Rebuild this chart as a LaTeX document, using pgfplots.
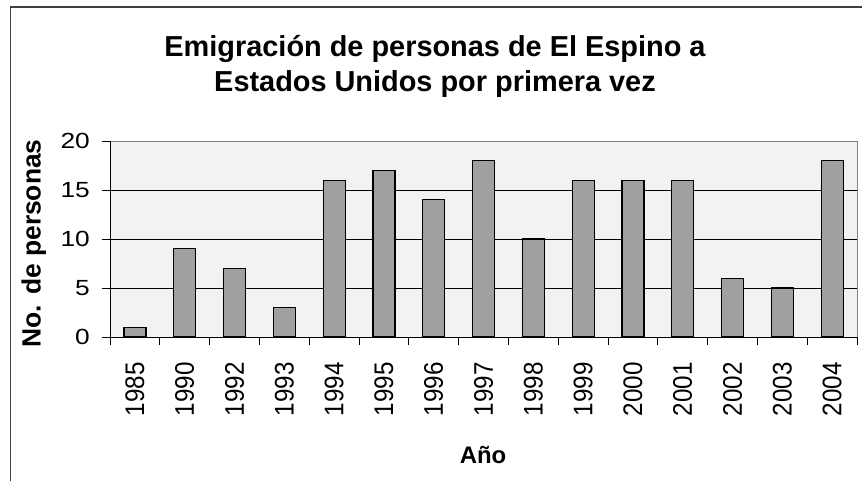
\documentclass[border=0pt]{standalone}
\usepackage{fontspec}
\setmainfont{Liberation Sans}
\newfontfamily\ytickfont[FakeStretch=1.2]{Liberation Sans}
\newfontfamily\xtickfont[FakeStretch=0.9]{Liberation Sans}
\usepackage{pgfplots}
\pgfplotsset{compat=1.18}
\definecolor{bargray}{RGB}{160,160,160}
\definecolor{bg}{RGB}{242,242,242}
\definecolor{frame}{RGB}{64,64,64}
\begin{document}
\begin{tikzpicture}
\path[use as bounding box] (0,0) rectangle (862bp,481bp);
\draw[line width=1.3bp, color=frame] (10.5bp,0) -- (10.5bp,474bp) -- (862bp,474bp);
\begin{axis}[
  at={(110bp,144bp)}, anchor=south west,
  scale only axis, width=747bp, height=196bp,
  xmin=-0.5, xmax=14.5, ymin=0, ymax=20,
  axis background/.style={fill=bg, draw=gray},
  axis x line*=bottom, axis y line*=left,
  axis line style={black, line width=0.9bp},
  tick align=outside,
  ytick={0,5,10,15,20},
  major tick length=8bp,
  minor tick length=8bp,
  tick style={black, line width=0.9bp},
  xtick={0,...,14},
  xticklabels={1985,1990,1992,1993,1994,1995,1996,1997,1998,1999,2000,2001,2002,2003,2004},
  major x tick style={draw=none},
  minor xtick={-0.5,0.5,...,14.5},
  extra y ticks={5,10,15},
  extra y tick labels={},
  extra y tick style={grid=major, major tick length=0pt},
  major grid style={black, line width=0.8bp},
  /pgf/number format/assume math mode=true,
  y tick label style={font=\ytickfont\fontsize{22}{22}\selectfont, inner sep=0pt, xshift=-12bp},
  x tick label style={rotate=90, anchor=east, inner sep=0pt, font=\xtickfont\fontsize{27}{27}\selectfont, xshift=-17bp},
  clip=false,
]
\addplot[ybar, bar width=22bp, fill=bargray, draw=black, line width=1.2bp]
  coordinates {(0,1) (1,9) (2,7) (3,3) (4,16) (5,17) (6,14) (7,18) (8,10) (9,16) (10,16) (11,16) (12,6) (13,5) (14,18)};
\end{axis}
\node[anchor=base, font=\bfseries\fontsize{29}{29}\selectfont] at (435bp,424.3bp) {Emigración de personas de El Espino a};
\node[anchor=base, font=\bfseries\fontsize{29}{29}\selectfont] at (435bp,389.3bp) {Estados Unidos por primera vez};
\node[anchor=base, rotate=90, font=\bfseries\fontsize{26.5}{26.5}\selectfont] at (40.7bp,237.7bp) {No. de personas};
\node[anchor=base, font=\bfseries\fontsize{24}{24}\selectfont] at (483bp,18bp) {Año};
\end{tikzpicture}
\end{document}
